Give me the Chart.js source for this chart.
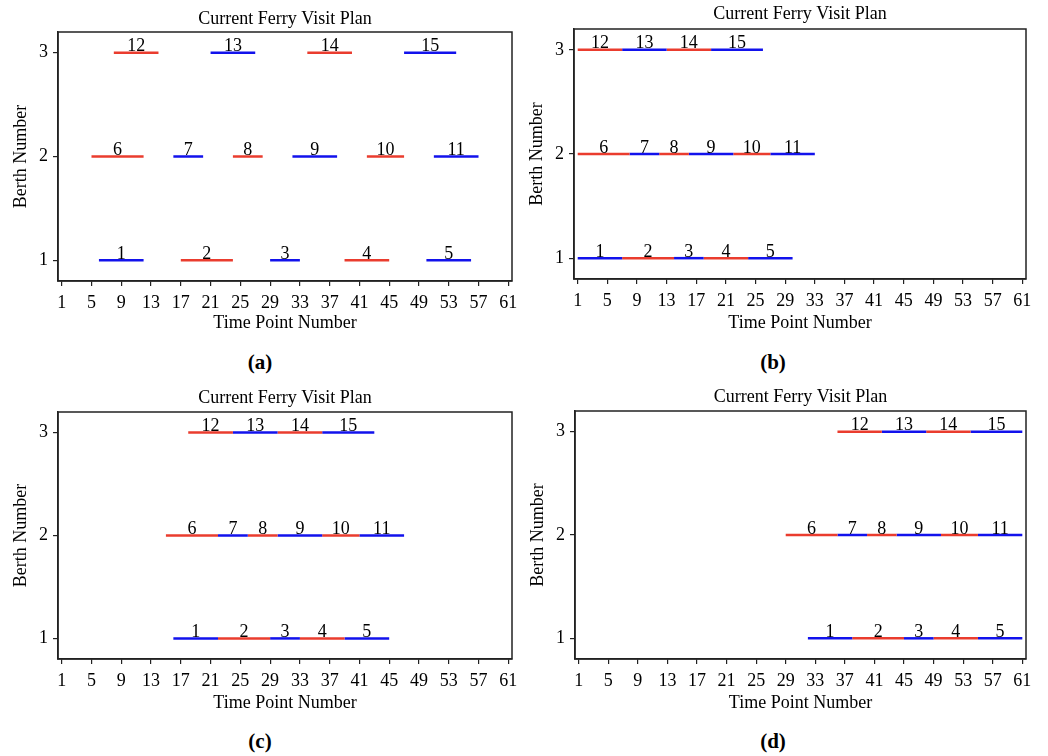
<!DOCTYPE html>
<html>
<head>
<meta charset="utf-8">
<title>Current Ferry Visit Plan</title>
<script src="https://cdn.jsdelivr.net/npm/chart.js@4/dist/chart.umd.min.js"></script>
<style>
body{margin:0;background:#fff;width:1048px;height:756px;position:relative;overflow:hidden;font-family:'Liberation Serif','Times New Roman',serif;}
canvas{position:absolute;}
.tag{position:absolute;width:80px;margin-left:-40px;text-align:center;font:bold 21px 'Liberation Serif',serif;line-height:24px;margin-top:-12px;color:#000;}
</style>
</head>
<body>
<canvas id="ca"></canvas>
<canvas id="cb"></canvas>
<canvas id="cc"></canvas>
<canvas id="cd"></canvas>
<div class="tag" style="left:260px;top:362px">(a)</div>
<div class="tag" style="left:773px;top:362px">(b)</div>
<div class="tag" style="left:260px;top:741px">(c)</div>
<div class="tag" style="left:773px;top:741px">(d)</div>
<script>
var berths = [1, 2, 3];
var ferryIds = [1, 2, 3, 4, 5, 6, 7, 8, 9, 10, 11, 12, 13, 14, 15];
var ferryBerth = [1, 1, 1, 1, 1, 2, 2, 2, 2, 2, 2, 3, 3, 3, 3];
var xTicks = [1, 5, 9, 13, 17, 21, 25, 29, 33, 37, 41, 45, 49, 53, 57, 61];

var startA = [6, 17, 29, 39, 50, 5, 16, 24, 32, 42, 51, 8, 21, 34, 47];
var endA   = [12, 24, 33, 45, 56, 12, 20, 28, 38, 47, 57, 14, 27, 40, 54];
var startB = [1, 7, 14, 18, 24, 1, 8, 12, 16, 22, 27, 1, 7, 13, 19];
var endB   = [7, 14, 18, 24, 30, 8, 12, 16, 22, 27, 33, 7, 13, 19, 26];
var startC = [16, 22, 29, 33, 39, 15, 22, 26, 30, 36, 41, 18, 24, 30, 36];
var endC   = [22, 29, 33, 39, 45, 22, 26, 30, 36, 41, 47, 24, 30, 36, 43];
var startD = [32, 38, 45, 49, 55, 29, 36, 40, 44, 50, 55, 36, 42, 48, 54];
var endD   = [38, 45, 49, 55, 61, 36, 40, 44, 50, 55, 61, 42, 48, 54, 61];

var FONT = "'Liberation Serif', 'Times New Roman', serif";
var RED = 'rgb(234,60,46)';
var BLUE = 'rgb(18,18,236)';

// frame round the plot area (top and right sides too)
var framePlugin = {
	id: 'frame',
	afterDraw: function(chart){
		var a = chart.chartArea, ctx = chart.ctx;
		ctx.save();
		ctx.strokeStyle = '#222';
		ctx.lineWidth = 1.5;
		ctx.strokeRect(a.left, a.top, a.right - a.left, a.bottom - a.top);
		ctx.restore();
	}
};

// ferry number over the middle of each segment
var labelPlugin = {
	id: 'segLabels',
	afterDatasetsDraw: function(chart){
		var ctx = chart.ctx, sx = chart.scales.x, sy = chart.scales.y;
		ctx.save();
		ctx.fillStyle = '#000';
		ctx.font = '18px ' + FONT;
		ctx.textAlign = 'center';
		ctx.textBaseline = 'alphabetic';
		chart.data.datasets.forEach(function(ds){
			var p = ds.data;
			var x = (sx.getPixelForValue(p[0].x) + sx.getPixelForValue(p[1].x)) / 2;
			var y = sy.getPixelForValue(p[0].y) - 1.5;
			ctx.fillText(ds.label, x, y);
		});
		ctx.restore();
	}
};

function makeChart(id, start, end, lay){
	var cv = document.getElementById(id);
	cv.width = lay.w; cv.height = lay.h;
	cv.style.left = lay.left + 'px'; cv.style.top = lay.top + 'px';
	cv.style.width = lay.w + 'px'; cv.style.height = lay.h + 'px';

	var datasets = ferryIds.map(function(fid, i){
		return {
			label: String(fid),
			data: [{x: start[i], y: ferryBerth[i]}, {x: end[i], y: ferryBerth[i]}],
			borderColor: fid % 2 ? BLUE : RED,
			borderWidth: 2.5,
			borderCapStyle: 'butt',
			pointRadius: 0,
			fill: false,
			tension: 0
		};
	});

	var tickFont = {family: FONT, size: 18};
	return new Chart(cv, {
		type: 'line',
		data: {datasets: datasets},
		options: {
			responsive: false,
			animation: false,
			events: [],
			layout: {padding: {left: 0, right: lay.w - lay.right, top: 0, bottom: 0}},
			plugins: {
				legend: {display: false},
				tooltip: {enabled: false},
				title: {
					display: true,
					fullSize: false,
					text: 'Current Ferry Visit Plan',
					color: '#000',
					font: {family: FONT, size: 18, weight: 'normal', lineHeight: 1.2},
					padding: {top: lay.titleTop, bottom: lay.top2 - lay.titleTop - 21.6}
				}
			},
			scales: {
				x: {
					type: 'linear',
					min: 0.5,
					max: 61.5,
					afterBuildTicks: function(s){ s.ticks = xTicks.map(function(v){ return {value: v}; }); },
					afterFit: function(s){
						s.height = lay.h - lay.bottom;
						s.paddingLeft = 0;
						s.paddingRight = 0;
					},
					ticks: {color: '#000', font: tickFont, padding: 6, autoSkip: false, maxRotation: 0},
					grid: {drawOnChartArea: false, drawTicks: true, tickLength: 5, color: '#222', lineWidth: 1.2},
					border: {display: true, color: '#222', width: 1.5},
					title: {display: true, text: 'Time Point Number', color: '#000',
						font: {family: FONT, size: 18, lineHeight: 1.2}, padding: {top: 0, bottom: 6}}
				},
				y: {
					type: 'linear',
					min: 0.8,
					max: 3.2,
					afterBuildTicks: function(s){ s.ticks = berths.map(function(v){ return {value: v}; }); },
					afterFit: function(s){
						s.width = lay.plotLeft;
						s.paddingTop = 0;
						s.paddingBottom = 0;
					},
					ticks: {color: '#000', font: tickFont, padding: 5},
					grid: {drawOnChartArea: false, drawTicks: true, tickLength: 5, color: '#222', lineWidth: 1.2},
					border: {display: true, color: '#222', width: 1.5},
					title: {display: true, text: 'Berth Number', color: '#000',
						font: {family: FONT, size: 18, lineHeight: 1.2}, padding: {top: lay.yTitlePad, bottom: 0}}
				}
			}
		},
		plugins: [framePlugin, labelPlugin]
	});
}

makeChart('ca', startA, endA, {left: 0,   top: 0,   w: 520, h: 340, plotLeft: 58, right: 512, top2: 32, bottom: 281, titleTop: 8.5, yTitlePad: 10});
makeChart('cb', startB, endB, {left: 520, top: 0,   w: 528, h: 340, plotLeft: 54, right: 506, top2: 29, bottom: 279, titleTop: 3.5, yTitlePad: 6});
makeChart('cc', startC, endC, {left: 0,   top: 380, w: 520, h: 340, plotLeft: 58, right: 512, top2: 32, bottom: 279, titleTop: 7, yTitlePad: 10});
makeChart('cd', startD, endD, {left: 520, top: 380, w: 528, h: 340, plotLeft: 55, right: 506, top2: 31, bottom: 279, titleTop: 6, yTitlePad: 7});
</script>
</body>
</html>
